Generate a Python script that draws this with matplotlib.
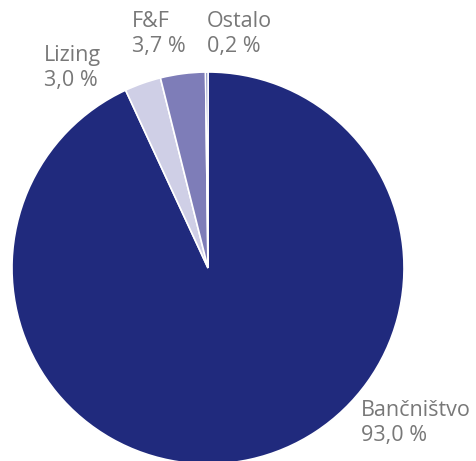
import matplotlib
matplotlib.use('Agg')
import matplotlib.pyplot as plt

# data
sektorji = ['Bančništvo', 'Lizing', 'F&F', 'Ostalo']
deleži = [93.0, 3.0, 3.7, 0.2]
barve = ['#202a7d', '#cfcfe6', '#7e7db8', '#5662a8']
oznake = ['Bančništvo\n93,0 %', 'Lizing\n3,0 %', 'F&F\n3,7 %', 'Ostalo\n0,2 %']

plt.rcParams['font.family'] = ['Open Sans', 'DejaVu Sans']

W, H = 477, 461
fig = plt.figure(figsize=(W / 100, H / 100), dpi=100)
ax = fig.add_axes([0, 0, 1, 1])

ax.pie(deleži, colors=barve, startangle=90, counterclock=False,
       center=(208, H - 268), radius=196, frame=True,
       wedgeprops={'edgecolor': 'white', 'linewidth': 1.2})
ax.set_xlim(0, W)
ax.set_ylim(0, H)
ax.axis('off')

# label positions in pixels (left, top)
pozicije = [(361, 400), (44, 45), (132, 11), (207, 11)]
for txt, (x, y) in zip(oznake, pozicije):
    ax.text(x, H - y, txt, ha='left', va='top', fontsize=15.5,
            color='#787878', linespacing=1.25)

fig.savefig('out.png', dpi=100)
